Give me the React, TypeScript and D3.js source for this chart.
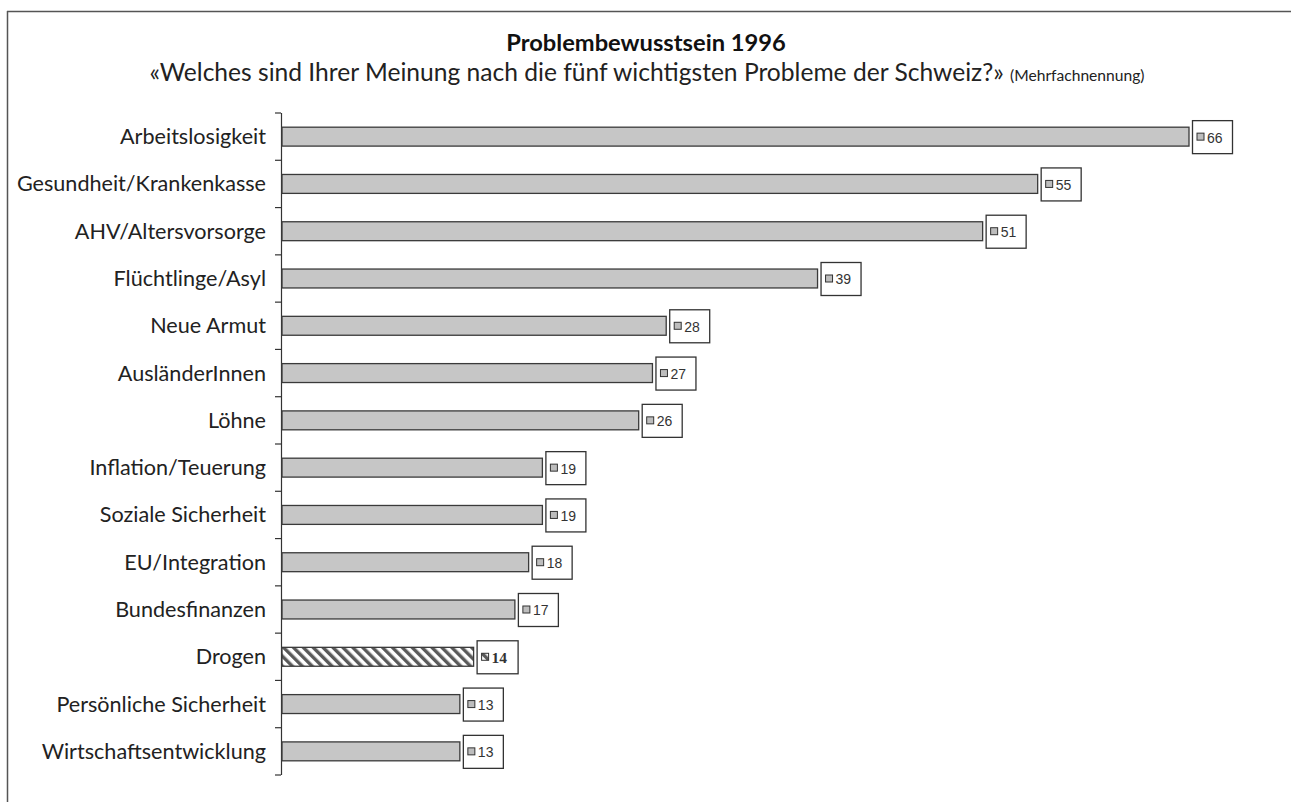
import React, { useEffect, useRef } from 'react';
import * as d3 from 'd3';

const categories = [
  'Arbeitslosigkeit',
  'Gesundheit/Krankenkasse',
  'AHV/Altersvorsorge',
  'Flüchtlinge/Asyl',
  'Neue Armut',
  'AusländerInnen',
  'Löhne',
  'Inflation/Teuerung',
  'Soziale Sicherheit',
  'EU/Integration',
  'Bundesfinanzen',
  'Drogen',
  'Persönliche Sicherheit',
  'Wirtschaftsentwicklung',
];
const values = [66, 55, 51, 39, 28, 27, 26, 19, 19, 18, 17, 14, 13, 13];
const highlighted = ['Drogen'];

const title = 'Problembewusstsein 1996';
const subtitle = '«Welches sind Ihrer Meinung nach die fünf wichtigsten Probleme der Schweiz?»';
const subtitleNote = '(Mehrfachnennung)';

export default function App() {
  const svgRef = useRef<SVGSVGElement>(null);
  const width = 1291;
  const height = 802;

  useEffect(() => {
    const svg = d3.select(svgRef.current);
    svg.selectAll('*').remove();

    const margin = { top: 113, left: 281, bottom: 27 };
    const plotH = height - margin.top - margin.bottom;
    const font = 'Lato, "Open Sans", sans-serif';

    const defs = svg.append('defs');
    const pat = defs
      .append('pattern')
      .attr('id', 'hatch')
      .attr('patternUnits', 'userSpaceOnUse')
      .attr('width', 7)
      .attr('height', 7)
      .attr('patternTransform', 'rotate(-45)');
    pat.append('rect').attr('width', 7).attr('height', 7).attr('fill', '#fff');
    pat.append('rect').attr('width', 3.4).attr('height', 7).attr('fill', '#5a5a5a');

    // frame (top + left only)
    svg.append('line').attr('x1', 7).attr('x2', width).attr('y1', 11.5).attr('y2', 11.5)
      .attr('stroke', '#555').attr('stroke-width', 1.5);
    svg.append('line').attr('x1', 7.5).attr('x2', 7.5).attr('y1', 11).attr('y2', height)
      .attr('stroke', '#555').attr('stroke-width', 1.5);

    // titles
    svg.append('text')
      .attr('x', 646).attr('y', 51)
      .attr('text-anchor', 'middle')
      .attr('font-family', font)
      .attr('font-weight', 'bold')
      .attr('font-size', 23.7)
      .attr('fill', '#111')
      .text(title);
    const sub = svg.append('text')
      .attr('x', 647).attr('y', 81)
      .attr('text-anchor', 'middle')
      .attr('font-family', font)
      .attr('fill', '#222');
    sub.append('tspan').attr('font-size', 24.6).text(subtitle + ' ');
    sub.append('tspan').attr('font-size', 15.6).text(subtitleNote);

    const y = d3.scaleBand().domain(categories).range([margin.top, margin.top + plotH]).paddingInner(0.6).paddingOuter(0.3);
    const x = d3.scaleLinear().domain([0, 66]).range([margin.left, 1189]);

    // axis with ticks between categories
    const g = svg.append('g');
    g.append('line')
      .attr('x1', margin.left + 0.5).attr('x2', margin.left + 0.5)
      .attr('y1', margin.top).attr('y2', margin.top + plotH)
      .attr('stroke', '#333').attr('stroke-width', 1.2);
    d3.range(categories.length + 1).forEach((i) => {
      const ty = margin.top + i * (plotH / categories.length);
      g.append('line')
        .attr('x1', margin.left - 6).attr('x2', margin.left)
        .attr('y1', ty).attr('y2', ty)
        .attr('stroke', '#333').attr('stroke-width', 1.2);
    });

    // labels
    svg.append('g')
      .selectAll('text')
      .data(categories)
      .join('text')
      .attr('x', 266)
      .attr('y', (d) => (y(d) as number) + y.bandwidth() / 2)
      .attr('dy', '0.35em')
      .attr('text-anchor', 'end')
      .attr('font-family', font)
      .attr('font-size', 21.6)
      .attr('fill', '#222')
      .text((d) => d);

    const data = categories.map((c, i) => ({ c, v: values[i], hl: highlighted.includes(c) }));

    // bars
    svg.append('g')
      .selectAll('rect')
      .data(data)
      .join('rect')
      .attr('x', x(0) + 1)
      .attr('y', (d) => y(d.c) as number)
      .attr('width', (d) => x(d.v) - x(0) - 1)
      .attr('height', y.bandwidth())
      .attr('fill', (d) => (d.hl ? 'url(#hatch)' : '#c6c6c6'))
      .attr('stroke', '#3a3a3a')
      .attr('stroke-width', 1.3);

    // value boxes
    const boxH = 33;
    const lab = svg.append('g')
      .selectAll('g')
      .data(data)
      .join('g')
      .attr('transform', (d) => `translate(${x(d.v) + 3},${(y(d.c) as number) + y.bandwidth() / 2 - boxH / 2})`);
    lab.append('rect')
      .attr('x', 0.5).attr('y', 0.5)
      .attr('width', (d) => (d.hl ? 41 : 40))
      .attr('height', boxH)
      .attr('fill', '#fff')
      .attr('stroke', '#333')
      .attr('stroke-width', 1.3);
    lab.append('rect')
      .attr('x', 5).attr('y', boxH / 2 - 3.5)
      .attr('width', 7).attr('height', 7)
      .attr('fill', (d) => (d.hl ? 'url(#hatch)' : '#bdbdbd'))
      .attr('stroke', '#333')
      .attr('stroke-width', 1);
    lab.append('text')
      .attr('x', 15)
      .attr('y', boxH / 2 + 1)
      .attr('dy', '0.35em')
      .attr('font-family', (d) => (d.hl ? '"Liberation Serif", serif' : '"Liberation Sans", Arial, sans-serif'))
      .attr('font-weight', (d) => (d.hl ? 'bold' : 'normal'))
      .attr('font-size', (d) => (d.hl ? 15.5 : 14))
      .attr('fill', '#333')
      .text((d) => d.v);
  }, []);

  return <svg ref={svgRef} width={width} height={height} style={{ position: 'absolute', left: 0, top: 0, background: '#fff' }} />;
}
